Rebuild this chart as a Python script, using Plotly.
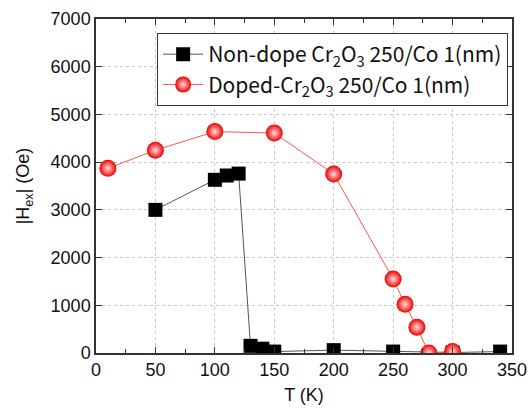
import plotly.graph_objects as go

t_nondope = [50, 100, 110, 120, 130, 140, 150, 200, 250, 300, 340]
h_nondope = [3000, 3630, 3720, 3760, 150, 90, 30, 60, 30, 10, 30]
t_doped = [10, 50, 100, 150, 200, 250, 260, 270, 280, 300]
h_doped = [3870, 4250, 4640, 4610, 3750, 1550, 1020, 540, 0, 30]

x_ticks = [0, 50, 100, 150, 200, 250, 300, 350]
y_ticks = [0, 1000, 2000, 3000, 4000, 5000, 6000, 7000]

fig = go.Figure()
fig.add_trace(go.Scatter(
    x=t_nondope, y=h_nondope, mode="lines+markers",
    name="Non-dope Cr<sub>2</sub>O<sub>3</sub> 250/Co 1(nm)",
    line=dict(color="#555555", width=1),
    marker=dict(symbol="square", size=14, color="black"),
))
fig.add_trace(go.Scatter(
    x=t_doped, y=h_doped, mode="lines+markers",
    name="Doped-Cr<sub>2</sub>O<sub>3</sub> 250/Co 1(nm)",
    line=dict(color="#ff5555", width=1),
    marker=dict(symbol="circle", size=17, color="#ee0000",
                gradient=dict(type="radial", color="#ffdddd")),
))

tickfont = dict(family="Liberation Sans", size=18, color="#111")
axis_common = dict(
    showline=True, linecolor="#333333", linewidth=1.5, mirror="ticks",
    ticks="inside", ticklen=6, tickcolor="#333333",
    showgrid=True, gridcolor="#c8c8c8", griddash="dot", gridwidth=1,
    zeroline=False, automargin=False,
    tickfont=tickfont,
)
fig.update_xaxes(range=[0, 350], tickvals=x_ticks, **axis_common,
                 minor=dict(ticks="inside", dtick=25, tick0=0, ticklen=4,
                            tickcolor="#333333", showgrid=False),
                 title=dict(text="T (K)", font=dict(family="Liberation Sans", size=18, color="#111"), standoff=9))
fig.update_yaxes(range=[0, 7000], tickvals=y_ticks, **axis_common,
                 title=dict(text="|H<sub>ex</sub>| (Oe)", font=dict(family="Liberation Sans", size=18, color="#111"), standoff=16))

fig.update_layout(
    width=530, height=412,
    margin=dict(l=96, r=18, t=19, b=59),
    paper_bgcolor="white", plot_bgcolor="white",
    showlegend=True,
    legend=dict(x=0.147, y=0.958, xanchor="left", yanchor="top",
                bgcolor="white", bordercolor="#333333", borderwidth=1,
                font=dict(family="Noto Sans CJK JP", size=21, color="#111"),
                tracegroupgap=0, itemwidth=40),
)
fig.write_html("out.html", config={"displayModeBar": False},
               post_script="document.body.style.margin='0';document.body.style.overflow='hidden';")
